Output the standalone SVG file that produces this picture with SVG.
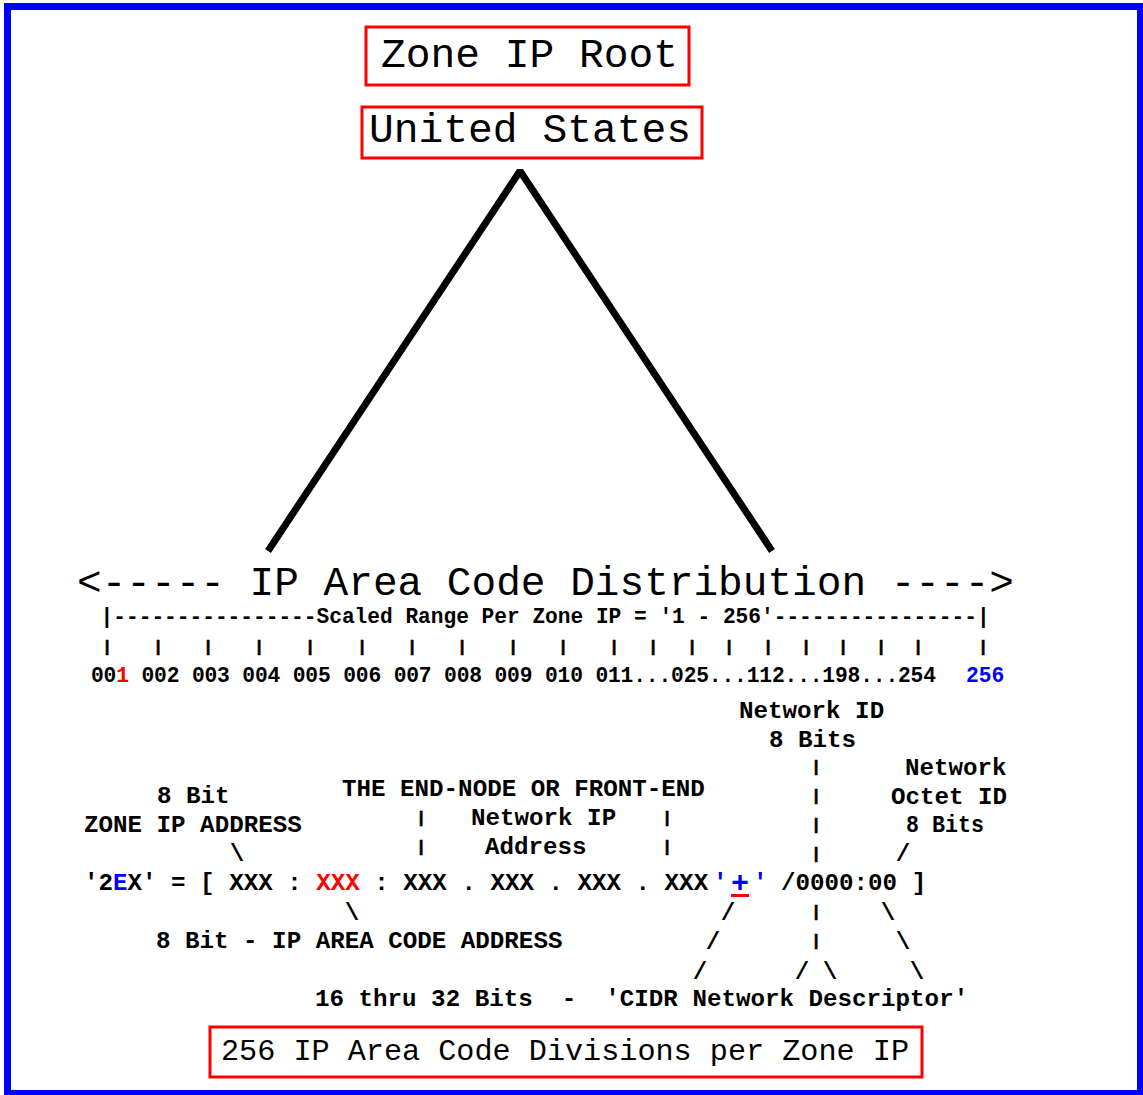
<svg xmlns="http://www.w3.org/2000/svg" width="1143" height="1095" viewBox="0 0 1143 1095" xml:space="preserve">
<style>
text{font-family:"Liberation Mono","Courier New",monospace;fill:#000;white-space:pre}
.big{font-size:41px}
.box{fill:none;stroke:#ff0000;stroke-width:3}
.sc{font-size:21.3px;font-weight:bold}
.sm{font-size:24.2px;font-weight:bold}
.bar{font-size:17px;font-weight:bold;text-anchor:middle;stroke:#000;stroke-width:0.6}
.sl{font-size:24.2px;font-weight:bold;text-anchor:middle}
.red{fill:#ff0000}
.blue{fill:#0000ff}
</style>
<rect x="7.5" y="6.5" width="1133" height="1087" fill="#fff" stroke="#0000ff" stroke-width="7"/>

<g id="node-zone-ip-root">
<rect class="box" x="366" y="27" width="323" height="58"/>
<text class="big" x="381" y="67" textLength="297" lengthAdjust="spacingAndGlyphs">Zone IP Root</text>
</g>
<g id="node-united-states">
<rect class="box" x="362" y="107" width="340" height="51"/>
<text class="big" x="369" y="142" textLength="322" lengthAdjust="spacingAndGlyphs">United States</text>
</g>

<g id="connectors">
<polyline points="268,551 520,171 772,551" fill="none" stroke="#000" stroke-width="7" stroke-linejoin="bevel"/>
</g>

<g id="node-distribution">
<text class="big" x="77" y="595" textLength="937" lengthAdjust="spacingAndGlyphs">&lt;----- IP Area Code Distribution ----&gt;</text>
<text class="sc" x="100.6" y="623" textLength="889" lengthAdjust="spacingAndGlyphs">|----------------Scaled Range Per Zone IP = '1 - 256'----------------|</text>
<g class="bar">
<text x="107" y="651.5">|</text><text x="158" y="651.5">|</text><text x="208" y="651.5">|</text><text x="259" y="651.5">|</text><text x="310" y="651.5">|</text><text x="362" y="651.5">|</text><text x="412" y="651.5">|</text><text x="462" y="651.5">|</text><text x="513" y="651.5">|</text><text x="563" y="651.5">|</text><text x="614" y="651.5">|</text><text x="653" y="651.5">|</text><text x="692" y="651.5">|</text><text x="729" y="651.5">|</text><text x="768" y="651.5">|</text><text x="806" y="651.5">|</text><text x="843" y="651.5">|</text><text x="881" y="651.5">|</text><text x="918" y="651.5">|</text><text x="983" y="651.5">|</text>
</g>
<text class="sc" x="91" y="682" textLength="845">00<tspan class="red">1</tspan> 002 003 004 005 006 007 008 009 010 011...025...112...198...254</text>
<text class="sc blue" x="966" y="682">256</text>
</g>

<g id="node-address">
<text class="sm" x="739" y="718">Network ID</text>
<text class="sm" x="769" y="747">8 Bits</text>
<text class="sm" x="905" y="775">Network</text>
<text class="sm" x="891" y="804">Octet ID</text>
<text class="sm" x="906" y="832" textLength="78" lengthAdjust="spacingAndGlyphs">8 Bits</text>
<text class="sm" x="157" y="803">8 Bit</text>
<text class="sm" x="84" y="832">ZONE IP ADDRESS</text>
<text class="sm" x="342" y="796">THE END-NODE OR FRONT-END</text>
<text class="sm" x="471" y="825">Network IP</text>
<text class="sm" x="485" y="854">Address</text>

<g class="bar">
<text x="816" y="772">|</text><text x="816" y="801">|</text><text x="816" y="830">|</text><text x="816" y="859">|</text>
<text x="816" y="917">|</text><text x="816" y="946">|</text>
<text x="421" y="823">|</text><text x="421" y="852">|</text>
<text x="667" y="823">|</text><text x="667" y="852">|</text>
</g>
<g class="sl">
<text x="237" y="861">\</text>
<text x="903" y="861">/</text>
<text x="352" y="920">\</text>
<text x="728" y="920">/</text><text x="888" y="920">\</text>
<text x="713" y="949">/</text><text x="903" y="949">\</text>
<text x="700" y="979">/</text><text x="802" y="979">/</text><text x="830" y="979">\</text><text x="917" y="979">\</text>
</g>

<text class="sm" x="84" y="890">'2<tspan class="blue">E</tspan>X' = [ XXX : <tspan class="red">XXX</tspan> : XXX . XXX . XXX . XXX</text>
<text class="sm blue" x="713" y="890">'<tspan class="red" style="font-size:30px;text-decoration:underline" dx="3.5" dy="2"><tspan class="blue">+</tspan></tspan><tspan dx="4" dy="-2">'</tspan></text>
<text class="sm" x="781" y="890">/0000:00 ]</text>

<text class="sm" x="156" y="948">8 Bit - IP AREA CODE ADDRESS</text>
<text class="sm" x="315" y="1006">16 thru 32 Bits  -  'CIDR Network Descriptor'</text>
</g>

<g id="node-divisions">
<rect class="box" x="210" y="1027" width="712" height="50"/>
<text x="221" y="1060" style="font-size:30px" textLength="688" lengthAdjust="spacingAndGlyphs">256 IP Area Code Divisions per Zone IP</text>
</g>
</svg>
